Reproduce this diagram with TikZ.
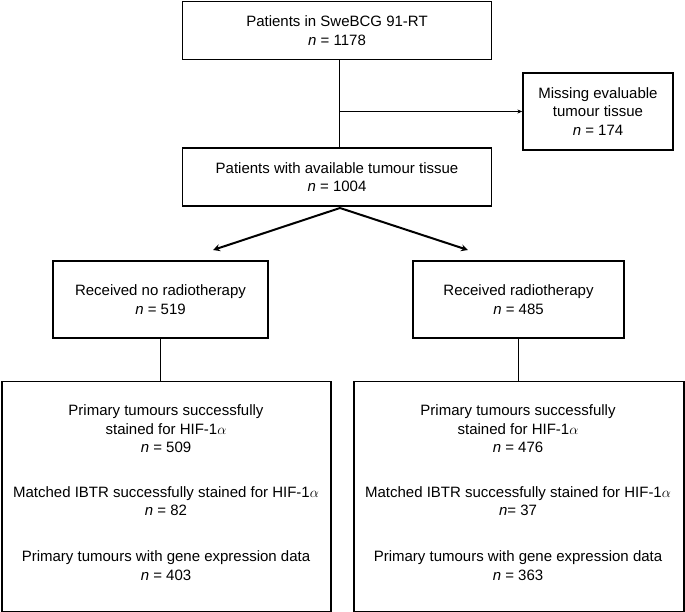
\documentclass[tikz,border=0pt]{standalone}
\usepackage{fontspec}
\setmainfont{Liberation Sans}
\usetikzlibrary{arrows.meta}
\begin{document}
\begin{tikzpicture}[x=1pt,y=-1pt,
  box/.style={draw, line width=1.3pt, rectangle, inner sep=0pt, align=center,
    font=\fontsize{15}{18.5}\selectfont},
  thin/.style={line width=0.9pt},
  thick/.style={line width=2pt, -{Stealth[length=7pt,width=7pt]}},
  txt/.style={align=center, font=\fontsize{15}{18.5}\selectfont, inner sep=0pt}]
\useasboundingbox (0,0) rectangle (685,612);
\node[box, minimum width=309pt, minimum height=58pt] (top) at (337,30.5)
  {Patients in SweBCG 91-RT\\\textit{n} = 1178};
\node[box, minimum width=150pt, minimum height=77pt] (miss) at (598,111.5)
  {Missing evaluable\\tumour tissue\\\textit{n} = 174};
\node[box, minimum width=309pt, minimum height=58pt] (mid) at (337,177)
  {Patients with available tumour tissue\\\textit{n} = 1004};
\node[box, minimum width=215pt, minimum height=77pt] (lbox) at (160.5,299.5)
  {Received no radiotherapy\\\textit{n} = 519};
\node[box, minimum width=211pt, minimum height=77pt] (rbox) at (518.5,299.5)
  {Received radiotherapy\\\textit{n} = 485};
\node[box, minimum width=329pt, minimum height=230pt] (lbig) at (166.5,496.5) {};
\node[box, minimum width=330pt, minimum height=230pt] (rbig) at (519,496.5) {};
% texts in big boxes
\node[txt] (l1) at (166,429) {Primary tumours successfully\\stained for HIF-1$\alpha$\\\textit{n} = 509};
\node[txt] (l2) at (166,501) {Matched IBTR successfully stained for HIF-1$\alpha$\\\textit{n} = 82};
\node[txt] (l3) at (166,565.5) {Primary tumours with gene expression data\\\textit{n} = 403};
\node[txt] (r1) at (518,429) {Primary tumours successfully\\stained for HIF-1$\alpha$\\\textit{n} = 476};
\node[txt] (r2) at (518,501) {Matched IBTR successfully stained for HIF-1$\alpha$\\\textit{n}= 37};
\node[txt] (r3) at (518,565.5) {Primary tumours with gene expression data\\\textit{n} = 363};
% connectors
\coordinate (j) at ([xshift=2pt]top.south |- miss.west);
\coordinate (apex) at (340,208);
\coordinate (ltip) at (213,250);
\coordinate (rtip) at (468,250);
\draw[thin] ([xshift=2pt]top.south) -- ([xshift=2pt]mid.north);
\draw[thin, -{Stealth[length=5pt,width=4pt]}] (j) -- (miss.west);
\draw[thick] (apex) -- (ltip);
\draw[thick] (apex) -- (rtip);
\draw[thin] (lbox.south) -- (lbox.south |- lbig.north);
\draw[thin] (rbox.south) -- (rbox.south |- rbig.north);
\end{tikzpicture}
\end{document}
